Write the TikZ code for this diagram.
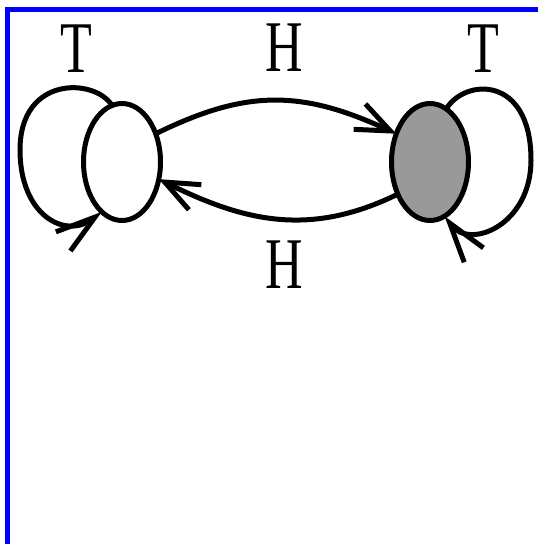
\documentclass[tikz,border=0pt]{standalone}
\usepackage{fontspec}
\setmainfont{Liberation Serif}
\usetikzlibrary{arrows.meta,shapes.geometric}
\definecolor{stategray}{RGB}{153,153,153}
\definecolor{framblue}{RGB}{0,0,255}
\begin{document}
\begin{tikzpicture}[x=1pt,y=-1pt, line width=5pt,
  state/.style={draw, ellipse, minimum width=77pt, minimum height=117pt, inner sep=0pt, outer sep=0pt},
  lbl/.style={inner sep=0pt, font=\fontsize{52}{52}\selectfont},
  harrow/.style={-{Straight Barb[length=34pt,width=28pt]}},
  larrow/.style={-{Straight Barb[length=40pt,width=24pt]}}]
\useasboundingbox (0,0) rectangle (538,544);
\draw[framblue, line width=5pt] (7,544) -- (7,9.5) -- (538,9.5);
\node[state] (L) at (122,162) {};
\node[state, fill=stategray] (R) at (430,162) {};
\node[lbl] (tl) at (76,48.5) {\scalebox{1}[1.4]{T}};
\node[lbl] (tr) at (483,48.5) {\scalebox{1}[1.4]{T}};
\node[lbl] (ht) at (284,47.5) {\scalebox{1}[1.4]{H}};
\node[lbl] (hb) at (284,265) {\scalebox{1}[1.4]{H}};
\draw[harrow] (L.40) .. controls (245,90) and (300,89) .. (R.140);
\draw[harrow] (R.225) .. controls (310,237) and (245,222) .. (L.-25);
\draw[larrow] (L.100) .. controls (95,78) and (20,75) .. (20,150) .. controls (20,215) and (65,240) .. (L.248);
\draw[larrow] (R.73) .. controls (465,78) and (531,75) .. (531,160) .. controls (531,225) and (470,250) .. (R.-75);
\end{tikzpicture}
\end{document}
